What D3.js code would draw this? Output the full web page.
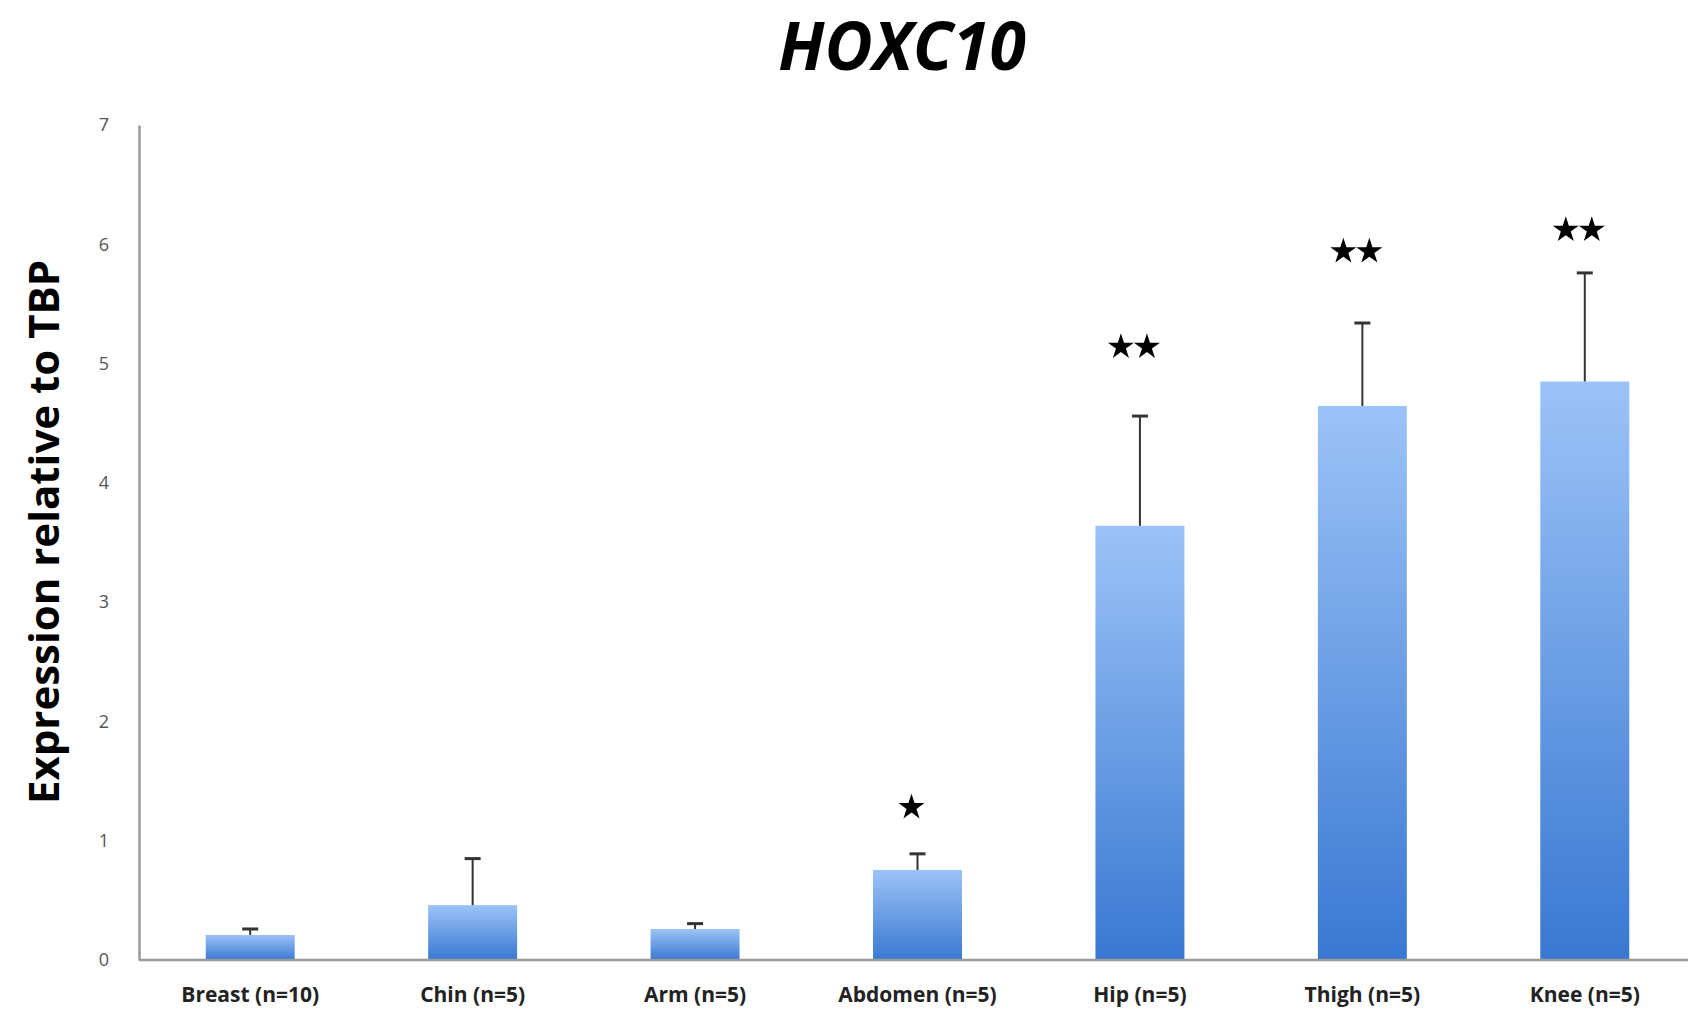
<!DOCTYPE html>
<html>
<head>
<meta charset="utf-8">
<script src="https://cdn.jsdelivr.net/npm/d3@7"></script>
<style>
  html, body { margin: 0; padding: 0; background: #fff; }
  svg { display: block; }
</style>
</head>
<body>
<svg id="chart"></svg>
<script>
const width = 1688;
const height = 1016;

const sites = ['Breast (n=10)', 'Chin (n=5)', 'Arm (n=5)', 'Abdomen (n=5)', 'Hip (n=5)', 'Thigh (n=5)', 'Knee (n=5)'];
const means = [0.21, 0.46, 0.26, 0.755, 3.64, 4.645, 4.85];
const errors = [0.05, 0.39, 0.045, 0.135, 0.92, 0.695, 0.91];
const stars = [0, 0, 0, 1, 2, 2, 2];
const starY = [0, 0, 0, 1.28, 5.14, 5.94, 6.12];
const yTicks = [0, 1, 2, 3, 4, 5, 6, 7];

const x = d3.scaleBand()
  .domain(sites)
  .range([139, 1696])
  .paddingInner(0.6)
  .paddingOuter(0.3);

const y = d3.scaleLinear()
  .domain([0, 7])
  .range([960, 125]);

const svg = d3.select('#chart')
  .attr('width', width)
  .attr('height', height)
  .attr('viewBox', [0, 0, width, height]);

const grad = svg.append('defs').append('linearGradient')
  .attr('id', 'barfill')
  .attr('x1', 0).attr('y1', 0).attr('x2', 0).attr('y2', 1);
grad.append('stop').attr('offset', '0%').attr('stop-color', '#9cc3f7');
grad.append('stop').attr('offset', '100%').attr('stop-color', '#3978d2');

// title
svg.append('text')
  .attr('x', 902)
  .attr('y', 70)
  .attr('text-anchor', 'middle')
  .style('font-family', '"Open Sans", sans-serif')
  .style('font-weight', 'bold')
  .style('font-style', 'italic')
  .style('font-size', '66px')
  .attr('fill', '#000')
  .text('HOXC10');

// y axis label
svg.append('text')
  .attr('transform', 'translate(59,532) rotate(-90)')
  .attr('text-anchor', 'middle')
  .style('font-family', '"Open Sans", sans-serif')
  .style('font-weight', 'bold')
  .style('font-size', '42px')
  .attr('fill', '#000')
  .text('Expression relative to TBP');

// bars
svg.append('g')
  .selectAll('rect')
  .data(sites)
  .join('rect')
  .attr('x', d => x(d))
  .attr('y', (d, i) => y(means[i]))
  .attr('width', x.bandwidth())
  .attr('height', (d, i) => y(0) - y(means[i]))
  .attr('fill', 'url(#barfill)');

// error bars (upper only)
const eb = svg.append('g')
  .attr('stroke', '#333')
  .attr('stroke-width', 2);
eb.selectAll('line.stem')
  .data(sites)
  .join('line')
  .attr('class', 'stem')
  .attr('x1', d => x(d) + x.bandwidth() / 2)
  .attr('x2', d => x(d) + x.bandwidth() / 2)
  .attr('y1', (d, i) => y(means[i]))
  .attr('y2', (d, i) => y(means[i] + errors[i]));
eb.selectAll('line.cap')
  .data(sites)
  .join('line')
  .attr('class', 'cap')
  .attr('stroke-width', 3)
  .attr('x1', d => x(d) + x.bandwidth() / 2 - 8)
  .attr('x2', d => x(d) + x.bandwidth() / 2 + 8)
  .attr('y1', (d, i) => y(means[i] + errors[i]))
  .attr('y2', (d, i) => y(means[i] + errors[i]));

// significance stars
const starSym = d3.symbol(d3.symbolStar).size(210);
const starData = [];
sites.forEach((s, i) => {
  for (let k = 0; k < stars[i]; k++) {
    starData.push({ s: s, i: i, k: k, n: stars[i] });
  }
});
svg.append('g')
  .selectAll('path')
  .data(starData)
  .join('path')
  .attr('d', starSym)
  .attr('transform', d => {
    const cx = x(d.s) + x.bandwidth() / 2 - 6 + (d.k - (d.n - 1) / 2) * 26;
    return `translate(${cx},${y(starY[d.i])})`;
  })
  .attr('fill', '#000');

// axes
const yAxis = svg.append('g')
  .attr('transform', 'translate(139,0)')
  .call(d3.axisLeft(y).tickValues(yTicks).tickFormat(d3.format('d')).tickSize(0).tickPadding(30));
yAxis.select('.domain').attr('stroke', '#9a9a9a').attr('stroke-width', 2.5);
yAxis.selectAll('text')
  .style('font-family', '"Open Sans", sans-serif')
  .style('font-size', '18px')
  .attr('fill', '#555');

const xAxis = svg.append('g')
  .attr('transform', 'translate(0,960)')
  .call(d3.axisBottom(x).tickSize(0).tickPadding(27));
xAxis.select('.domain').attr('stroke', '#9a9a9a').attr('stroke-width', 2.5)
  .attr('d', 'M139,0H1688');
xAxis.selectAll('text')
  .style('font-family', '"Open Sans", sans-serif')
  .style('font-weight', 'bold')
  .style('font-size', '21px')
  .attr('fill', '#222');
</script>
</body>
</html>
